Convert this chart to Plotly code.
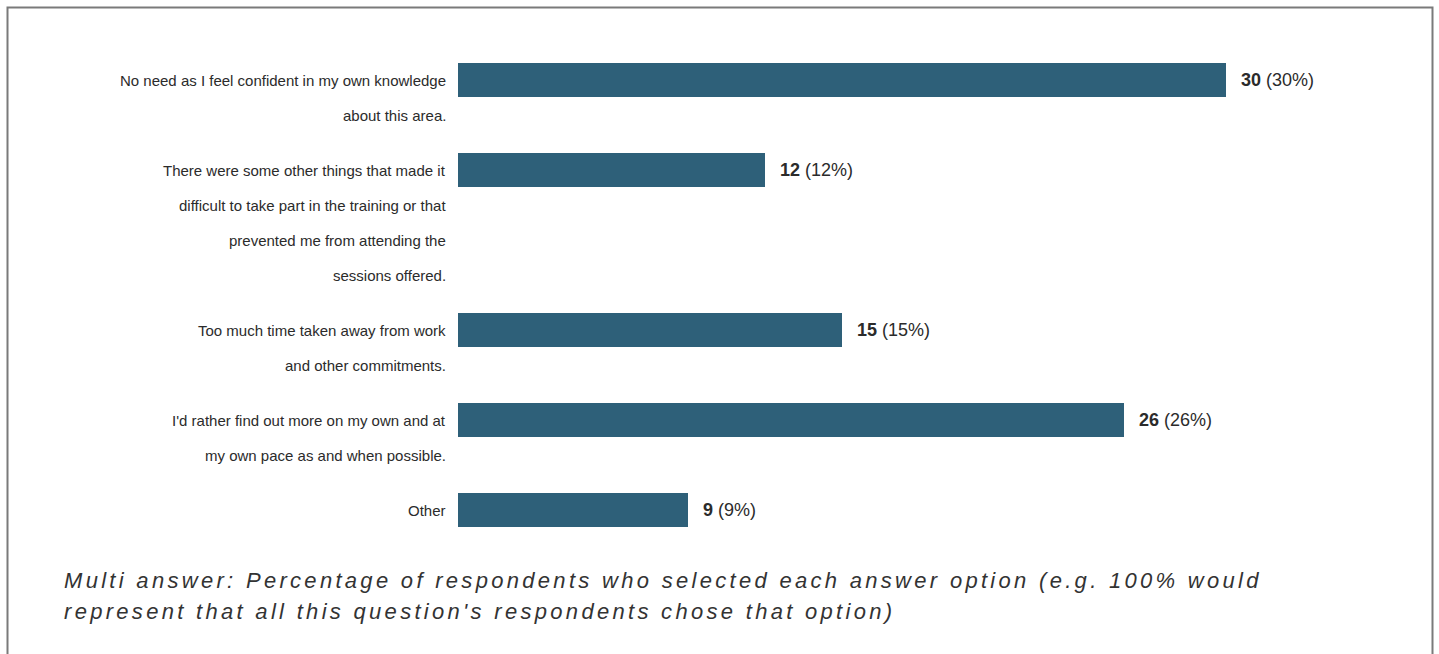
import plotly.graph_objects as go

# ---------------- data ----------------
categories = [
    "No need as I feel confident in my own knowledge\nabout this area.",
    "There were some other things that made it\ndifficult to take part in the training or that\nprevented me from attending the\nsessions offered.",
    "Too much time taken away from work\nand other commitments.",
    "I'd rather find out more on my own and at\nmy own pace as and when possible.",
    "Other",
]
values = [30, 12, 15, 26, 9]
value_labels = ["30 (30%)", "12 (12%)", "15 (15%)", "26 (26%)", "9 (9%)"]
subtitle_lines = [
    "Multi answer: Percentage of respondents who selected each answer option (e.g. 100% would",
    "represent that all this question's respondents chose that option)",
]

# ---------------- layout constants ----------------
W, H = 1439, 654
PX_PER_UNIT = 25.6
BAR_X0 = 458
LABEL_RIGHT = 448
FIRST_TOP = 63
LINE_H = 35
BAR_H = 34
GAP = 20
BAR_COLOR = "#2e6079"
TEXT_COLOR = "#2b2b2b"

y_centers, line_pos = [], []
top = FIRST_TOP
for cat in categories:
    lines = cat.split("\n")
    c = top + BAR_H / 2
    y_centers.append(c)
    line_pos.append([(ln, c + i * LINE_H) for i, ln in enumerate(lines)])
    top += max(BAR_H, len(lines) * LINE_H) + GAP

fig = go.Figure()
fig.add_trace(go.Bar(
    x=values, y=y_centers, orientation="h", width=BAR_H,
    marker=dict(color=BAR_COLOR, line=dict(width=0)),
    hoverinfo="skip", showlegend=False,
))

ann = []
for lines in line_pos:
    for ln, yy in lines:
        ann.append(dict(x=LABEL_RIGHT / W, xref="paper", y=yy, yref="y",
                        text=ln, showarrow=False, xanchor="right", yanchor="middle",
                        font=dict(family="Liberation Sans, Arial", size=15, color=TEXT_COLOR)))
for v, lab, yy in zip(values, value_labels, y_centers):
    num, rest = lab.split(" ", 1)
    ann.append(dict(x=v, xref="x", y=yy, yref="y", xshift=13,
                    text=f"<b>{num}</b> {rest}", showarrow=False,
                    xanchor="left", yanchor="middle",
                    font=dict(family="Liberation Sans, Arial", size=18, color=TEXT_COLOR)))
for i, ln in enumerate(subtitle_lines):
    ann.append(dict(x=62 / W, xref="paper", y=580 + i * 31, yref="y",
                    text=f"<i>{ln}</i>", showarrow=False, xanchor="left", yanchor="middle",
                    font=dict(family="Liberation Sans, Arial", size=22, color="#333333")))

fig.update_layout(
    width=W, height=H, margin=dict(l=0, r=0, t=0, b=0),
    paper_bgcolor="white", plot_bgcolor="white",
    xaxis=dict(range=[-BAR_X0 / PX_PER_UNIT, (W - BAR_X0) / PX_PER_UNIT],
               visible=False, fixedrange=True),
    yaxis=dict(range=[H, 0], visible=False, fixedrange=True),
    annotations=ann,
    shapes=[dict(type="path", xref="paper", yref="paper",
                 path=f"M {7.5/W},-0.05 L {7.5/W},{1-7.5/H} L {1-6.5/W},{1-7.5/H} L {1-6.5/W},-0.05",
                 line=dict(color="#7a7a7a", width=2))],
    bargap=0,
)

# widen the subtitle's letter spacing as in the reference, keeping its left edge
post = """
document.querySelectorAll('.annotation-text').forEach(function(t){
  var s = t.textContent || '';
  if (s.indexOf('Multi answer') === 0 || s.indexOf('represent that') === 0) {
    var b0 = t.getBBox();
    t.style.letterSpacing = '3.3px';
    var b1 = t.getBBox();
    var dx = b0.x - b1.x;
    t.setAttribute('x', parseFloat(t.getAttribute('x') || 0) + dx);
    t.querySelectorAll('tspan[x]').forEach(function(sp){
      sp.setAttribute('x', parseFloat(sp.getAttribute('x')) + dx);
    });
  }
});
"""
fig.write_html("out.html", post_script=post)
